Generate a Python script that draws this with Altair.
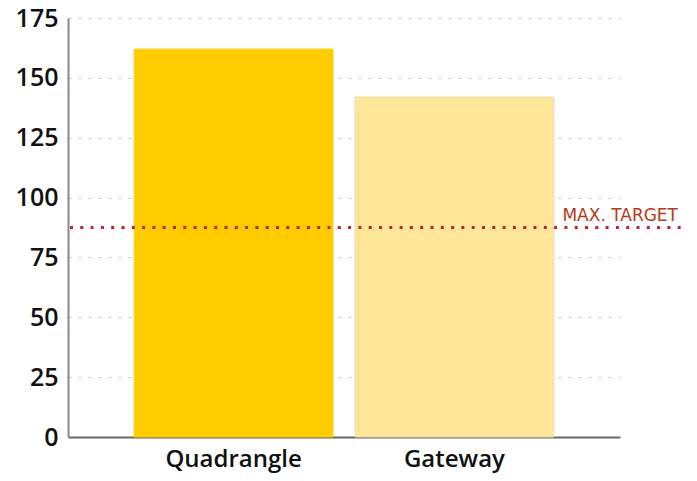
import altair as alt
import pandas as pd

categories = ["Quadrangle", "Gateway"]
values = [162, 142]
bar_colors = ["#FFCC00", "#FFE699"]
stroke_colors = ["#FFCC00", "#E8DCA8"]
target_value = [87.5]
target_label = ["MAX. TARGET"]
y_ticks = [0, 25, 50, 75, 100, 125, 150, 175]

FONT = "Open Sans"

df = pd.DataFrame({"site": categories, "value": values})
tdf = pd.DataFrame({"target": target_value, "label": target_label})

y_scale = alt.Scale(domain=[0, 175], nice=False)

bars = alt.Chart(df).mark_bar(strokeWidth=1).encode(
    x=alt.X("site:N", sort=categories,
            scale=alt.Scale(paddingInner=0.1, paddingOuter=0.3),
            axis=alt.Axis(title=None, labelAngle=0, labelFont=FONT, labelFontSize=24,
                          labelFontWeight=600, labelColor="#111", labelPadding=29,
                          labelBaseline="alphabetic",
                          ticks=False, domainColor="#666", domainWidth=2)),
    y=alt.Y("value:Q", scale=y_scale,
            axis=alt.Axis(title=None, values=y_ticks, labelFont=FONT, labelFontSize=25,
                          labelFontWeight=600, labelColor="#111", labelPadding=10,
                          ticks=False, domainColor="#888", domainWidth=2,
                          grid=True, gridColor="#c8c8c8", gridDash=[3, 7], gridWidth=1)),
    color=alt.Color("site:N", scale=alt.Scale(domain=categories, range=bar_colors), legend=None),
    stroke=alt.Stroke("site:N", scale=alt.Scale(domain=categories, range=stroke_colors), legend=None),
)

rule = alt.Chart(tdf).mark_rule(color="#C42032", strokeWidth=3, strokeDash=[3, 7.3]).encode(
    y=alt.Y("target:Q", scale=y_scale),
    x=alt.value(2),
    x2=alt.value(622),
)

label = alt.Chart(tdf).mark_text(color="#B8391A", font="DejaVu Sans", fontSize=17,
                                 fontWeight=500, align="right", baseline="alphabetic",
                                 dy=-7).encode(
    y=alt.Y("target:Q", scale=y_scale),
    x=alt.value(610),
    text="label:N",
)

chart = alt.layer(bars, rule, label).properties(
    width=552, height=419,
    autosize=alt.AutoSizeParams(type="none"),
    padding={"left": 60, "top": 10, "right": 61, "bottom": 36},
).configure_view(stroke=None)

chart.save("out.html", embed_options={"renderer": "svg", "actions": False})
